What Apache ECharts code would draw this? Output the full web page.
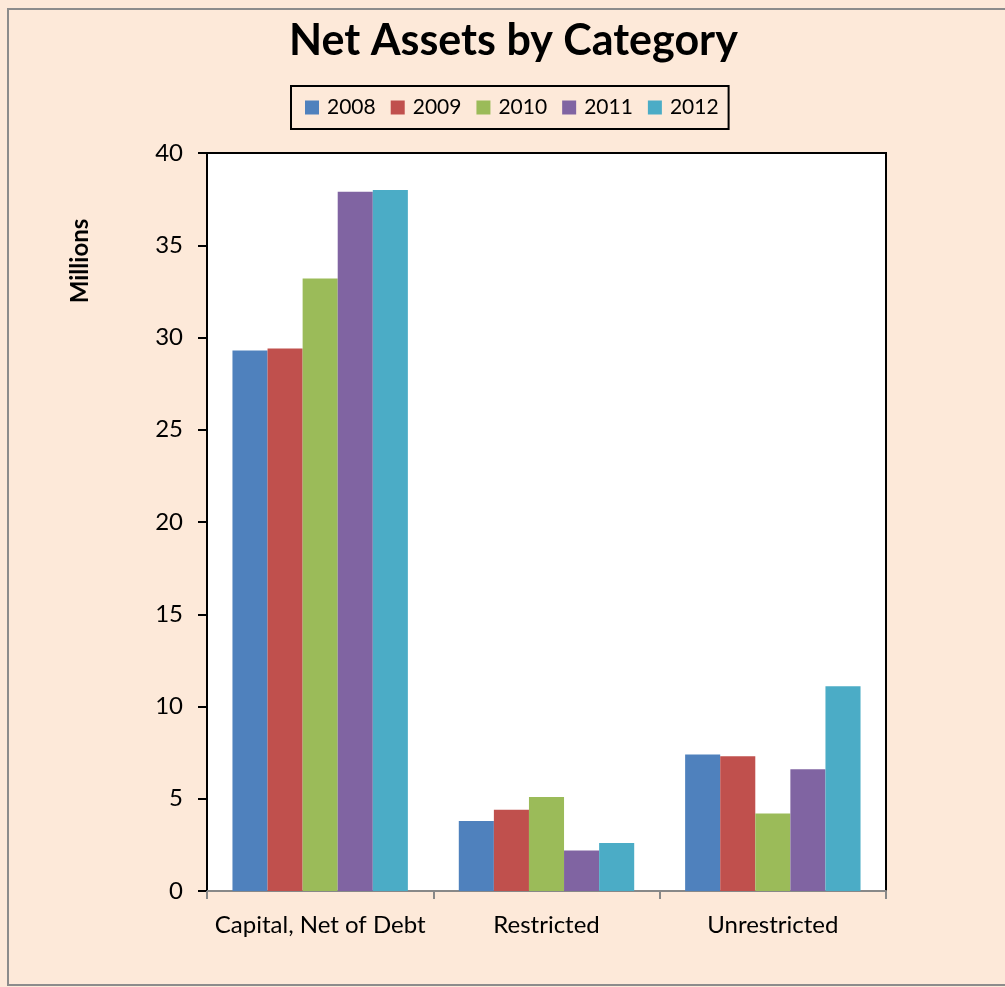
<!DOCTYPE html>
<html>
<head>
<meta charset="UTF-8">
<title>Net Assets by Category</title>
<script src="https://cdn.jsdelivr.net/npm/echarts@6/dist/echarts.min.js"></script>
<style>
  html, body { margin: 0; padding: 0; background: #fff; }
  #main { width: 1005px; height: 987px; }
</style>
</head>
<body>
<div id="main"></div>
<script>
// categories and values (millions)
var categories = ['Capital, Net of Debt', 'Restricted', 'Unrestricted'];
var years = ['2008', '2009', '2010', '2011', '2012'];
var v2008 = [29.3, 3.8, 7.4];
var v2009 = [29.4, 4.4, 7.3];
var v2010 = [33.2, 5.1, 4.2];
var v2011 = [37.9, 2.2, 6.6];
var v2012 = [38.0, 2.6, 11.1];
var yTicks = [0, 5, 10, 15, 20, 25, 30, 35, 40];

var colors = ['#4f81bd', '#c0504d', '#9bbb59', '#8064a2', '#4bacc6'];
var font = 'Lato, "Open Sans", sans-serif';

var allValues = [v2008, v2009, v2010, v2011, v2012];
var series = [];
for (var i = 0; i < years.length; i++) {
  series.push({
    name: years[i],
    type: 'bar',
    data: allValues[i],
    barGap: '0%',
    barCategoryGap: '22.5%',
    itemStyle: { color: colors[i] }
  });
}

var myChart = echarts.init(document.getElementById('main'));
var option = {
  animation: false,
  backgroundColor: '#fde9d9',
  color: colors,
  title: {
    text: 'Net Assets by Category',
    left: 284,
    top: 15,
    textStyle: { fontFamily: font, fontWeight: 'bold', fontSize: 43, color: '#000' }
  },
  legend: {
    top: 86,
    left: 291,
    itemWidth: 14,
    itemHeight: 14,
    itemGap: 15,
    padding: [11, 10, 11, 14],
    borderColor: '#000',
    borderWidth: 2,
    icon: 'rect',
    textStyle: { fontFamily: font, fontSize: 21, color: '#000', padding: [0, 0, 0, 3] },
    data: years
  },
  grid: {
    left: 207,
    top: 153,
    width: 679,
    height: 738,
    show: true,
    backgroundColor: '#fff',
    borderColor: '#000',
    borderWidth: 2
  },
  xAxis: {
    type: 'category',
    data: categories,
    axisLine: { lineStyle: { color: '#888', width: 2 } },
    axisTick: { show: true, length: 8, lineStyle: { color: '#888', width: 2 } },
    axisLabel: { fontFamily: font, fontSize: 24, color: '#000', margin: 22, interval: 0 }
  },
  yAxis: {
    type: 'value',
    min: 0,
    max: 40,
    interval: 5,
    axisLine: { show: true, lineStyle: { color: '#000', width: 2 } },
    axisTick: { show: true, length: 9, lineStyle: { color: '#000', width: 2 } },
    axisLabel: {
      fontFamily: font, fontSize: 24, color: '#000', margin: 24,
      formatter: function (v) { return yTicks.indexOf(v) >= 0 ? String(v) : ''; }
    },
    splitLine: { show: false }
  },
  series: series,
  graphic: [
    {
      type: 'rect',
      shape: { x: 8, y: 9, width: 1010, height: 976 },
      style: { fill: null, stroke: '#8c8c8c', lineWidth: 2 },
      silent: true,
      z: 100
    },
    {
      type: 'text',
      x: 80,
      y: 261,
      rotation: Math.PI / 2,
      style: {
        text: 'Millions',
        fontFamily: font,
        fontWeight: 'bold',
        fontSize: 24,
        fill: '#000',
        align: 'center',
        verticalAlign: 'middle'
      }
    }
  ]
};
myChart.setOption(option);
</script>
</body>
</html>
